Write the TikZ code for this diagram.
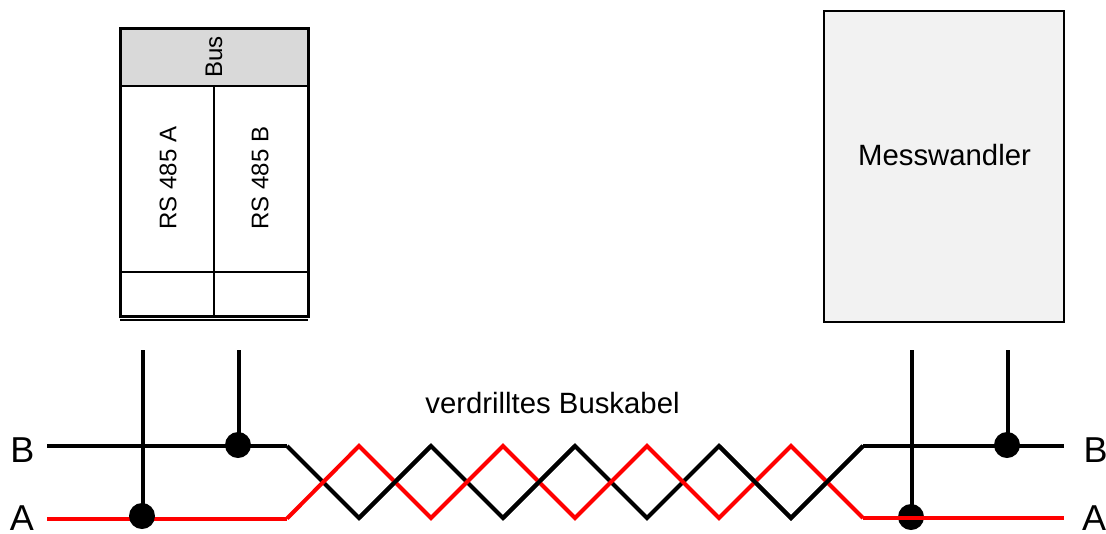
\documentclass[tikz,border=0pt]{standalone}
\usepackage{fontspec}
\setmainfont{Liberation Sans}
\definecolor{hdr}{HTML}{D9D9D9}
\definecolor{mw}{HTML}{F2F2F2}
\tikzset{
  outer/.style={draw=black,line width=2.25pt,fill=none},
  inner/.style={draw=black,line width=1.6pt},
  wireK/.style={draw=black,line width=3pt,line join=miter},
  wireR/.style={draw=red,line width=3pt,line join=miter},
  twistK/.style={draw=black,line width=3pt,line join=miter},
  twistR/.style={draw=red,line width=3pt,line join=miter},
  stub/.style={draw=black,line width=3pt},
  dot/.style={circle,fill=black,inner sep=0pt,minimum size=19.5pt},
  big/.style={font=\fontsize{27}{30}\selectfont,inner sep=0pt},
  mid/.style={font=\fontsize{22}{26}\selectfont,inner sep=0pt},
  small/.style={font=\fontsize{18}{22}\selectfont,inner sep=0pt,rotate=90},
}
\begin{document}
\begin{tikzpicture}[x=0.75pt,y=-0.75pt]
\useasboundingbox (0,0) rectangle (1106,533);
% Bus module
\fill[hdr] (120,28) rectangle (308,86);
\coordinate (tl) at (120,28); \coordinate (br) at (308,316);
\coordinate (hl) at (120,86); \coordinate (hr) at (308,86);
\coordinate (rl) at (120,272); \coordinate (rr) at (308,272);
\coordinate (mt) at (214,86); \coordinate (mb) at (214,316);
\coordinate (ul) at (120,320); \coordinate (ur) at (308,320);
\draw[inner] (hl) -- (hr);
\draw[inner] (rl) -- (rr);
\draw[inner] (mt) -- (mb);
\draw[outer] (tl) rectangle (br);
\draw[inner] (ul) -- (ur);
\node[small] (bus) at (214,57) {Bus};
\node[small] (rsa) at (168,178) {RS 485 A};
\node[small] (rsb) at (260,178) {RS 485 B};
% Messwandler
\node[draw=black,line width=1.6pt,fill=mw,outer sep=0pt,minimum width=180pt,minimum height=233.25pt,inner sep=0pt,anchor=north west] (wandler) at (824,11) {};
\node[mid] (wandlertext) at (944.5,155) {Messwandler};
% Coordinates of the wires
\coordinate (bL) at (47,446); \coordinate (aL) at (47,518.5);
\coordinate (b0) at (287,446); \coordinate (a0) at (287,518.5);
\coordinate (b1) at (863,446); \coordinate (a1) at (863,518);
\coordinate (bR) at (1064,446); \coordinate (aR) at (1064,518);
\coordinate (s1) at (143,350); \coordinate (s2) at (239,350);
\coordinate (s3) at (912,350); \coordinate (s4) at (1008,350);
\foreach \n/\x in {1/359,2/431,3/503,4/575,5/647,6/719,7/791}{
  \coordinate (t\n) at (\x,446); \coordinate (u\n) at (\x,518);
}
% Wires
\draw[wireK] (bL) -- (b0);
\draw[wireK] (b1) -- (bR);
\draw[wireR] (aL) -- (a0);
\node[dot] (d1) at (142,516) {};
\node[dot] (d2) at (238,445) {};
\node[dot] (d3) at (911,517) {};
\node[dot] (d4) at (1007,445) {};
\draw[stub] (s1) -- (s1 |- d1.center);
\draw[stub] (s2) -- (s2 |- d2.center);
\draw[stub] (s3) -- (s3 |- d3.center);
\draw[stub] (s4) -- (s4 |- d4.center);
\draw[wireR] (a1) -- (aR);
% Twisted pair: black below red, then black redrawn where it lies on top
\draw[twistK] (b0) -- (u1) -- (t2) -- (u3) -- (t4) -- (u5) -- (t6) -- (u7) -- (b1);
\draw[twistR] (a0) -- (t1) -- (u2) -- (t3) -- (u4) -- (t5) -- (u6) -- (t7) -- (a1);
\draw[twistK] (u1) -- (t2);
\draw[twistK] (u3) -- (t4);
\draw[twistK] (t6) -- (u7) -- (b1);
% Labels
\node[mid] (cable) at (552.5,403) {verdrilltes Buskabel};
\node[big,anchor=base] (lb) at (22.5,462.5) {B};
\node[big,anchor=base] (la) at (22,530) {A};
\node[big,anchor=base] (rb) at (1095.5,462.5) {B};
\node[big,anchor=base] (ra) at (1094,530) {A};
\end{tikzpicture}
\end{document}
